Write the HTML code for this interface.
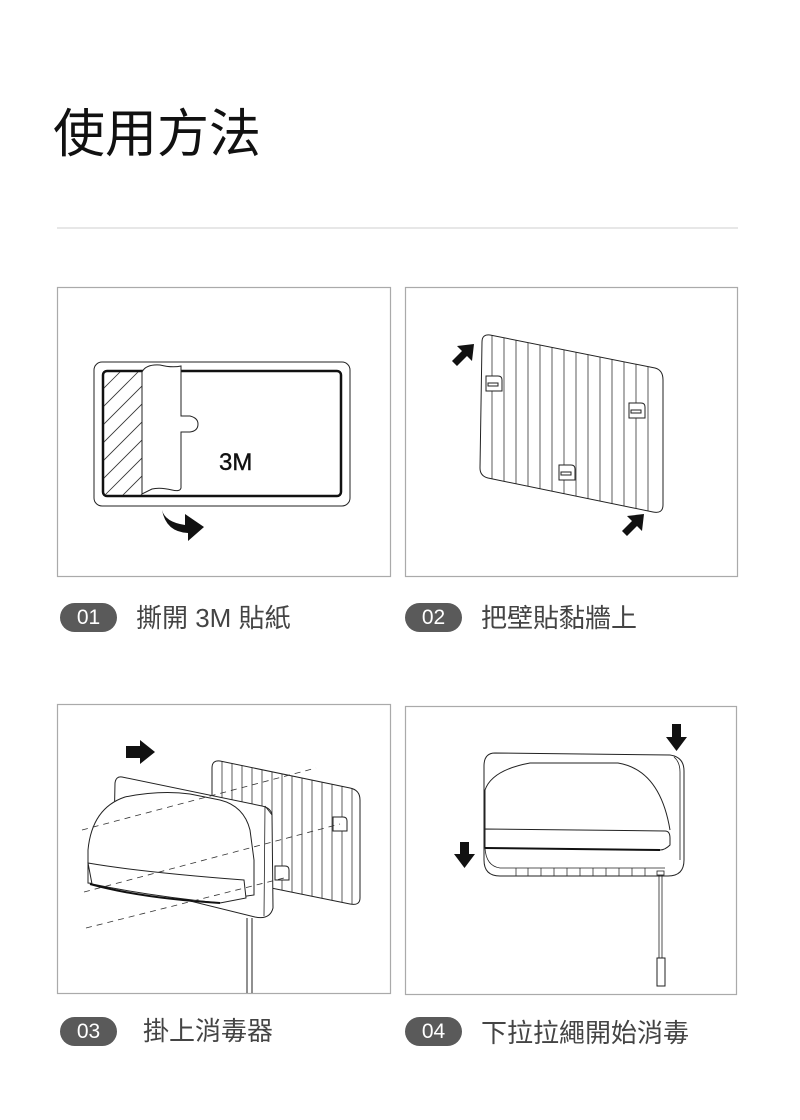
<!DOCTYPE html>
<html><head><meta charset="utf-8"><style>
html,body{margin:0;padding:0;background:#fff;}
body{width:800px;height:1120px;position:relative;overflow:hidden;font-family:"Liberation Sans","Noto Sans CJK TC",sans-serif;}
.t{position:absolute;left:53px;top:92px;font-size:52px;line-height:76px;color:#111;font-family:"Noto Sans CJK TC","Noto Sans CJK SC",sans-serif;letter-spacing:0px;}
.pill{position:absolute;width:57px;height:29px;border-radius:15px;background:#5a5a5a;color:#fff;font-size:21px;line-height:29px;text-align:center;font-family:"Liberation Sans",sans-serif;}
.lab{position:absolute;font-size:26px;line-height:30px;color:#444;font-family:"Liberation Sans","Noto Sans CJK TC",sans-serif;}
svg{position:absolute;left:0;top:0;}
</style></head><body>
<div class="t">使用方法</div>
<svg width="800" height="1120" viewBox="0 0 800 1120">
<defs>
<clipPath id="hc"><rect x="104" y="372" width="40" height="123"/></clipPath>
<clipPath id="pc"><path d="M482,342 Q482,334 490,335 L655,368 Q663,370 663,380 L663,505 Q663,514 653,512 L488,478 Q480,476 480,468 Z"/></clipPath>
<clipPath id="pc3"><path d="M212,768 Q212,760 220,761 L350,788 Q360,790 360,800 L360,898 Q360,906 350,904 L222,878 Q212,876 212,868 Z"/></clipPath>
</defs>
<line x1="57" y1="228" x2="738" y2="228" stroke="#cfcfcf" stroke-width="1"/>
<g fill="none" stroke="#aaa" stroke-width="1.2">
<rect x="57.5" y="287.5" width="333" height="289"/>
<rect x="405.5" y="287.5" width="332" height="289"/>
<rect x="57.5" y="704.5" width="333" height="289"/>
<rect x="405.5" y="706.5" width="331" height="288"/>
</g>
<!-- Panel 1 -->
<rect x="94" y="362" width="256" height="144" rx="8" fill="none" stroke="#222" stroke-width="1"/>
<rect x="103" y="371" width="238" height="125" rx="4" fill="none" stroke="#111" stroke-width="2.5"/>
<g clip-path="url(#hc)" stroke="#333" stroke-width="0.8">
<line x1="80" y1="430" x2="150" y2="360"/><line x1="80" y1="448" x2="160" y2="368"/><line x1="80" y1="466" x2="170" y2="376"/><line x1="80" y1="484" x2="170" y2="394"/><line x1="80" y1="502" x2="170" y2="412"/><line x1="80" y1="520" x2="170" y2="430"/><line x1="80" y1="538" x2="170" y2="448"/><line x1="80" y1="556" x2="170" y2="466"/><line x1="80" y1="574" x2="170" y2="484"/><line x1="80" y1="412" x2="140" y2="352"/>
</g>
<path d="M142,372 Q146,364 160,365 Q172,368 181,366 L181,416 L190,416 Q198,418 198,424 Q198,431 190,432 L181,432 L181,488 Q180,492 172,490 Q160,487 152,489 Q146,492 142,494 Z" fill="#fff" stroke="#222" stroke-width="1"/>
<text x="219" y="470" font-size="24" font-family="Liberation Sans,sans-serif" fill="#111" stroke="#111" stroke-width="0.4">3M</text>
<path d="M162,510 Q165,522 185,525 L185,514 L204,527 L188,541 L188,533 Q166,532 162,510 Z" fill="#111"/>
<!-- Panel 2 -->
<g clip-path="url(#pc)" stroke="#333" stroke-width="0.8">
<line x1="492" y1="330" x2="492" y2="520"/><line x1="504" y1="330" x2="504" y2="520"/><line x1="516" y1="330" x2="516" y2="520"/><line x1="528" y1="330" x2="528" y2="520"/><line x1="540" y1="330" x2="540" y2="520"/><line x1="552" y1="330" x2="552" y2="520"/><line x1="564" y1="330" x2="564" y2="520"/><line x1="576" y1="330" x2="576" y2="520"/><line x1="588" y1="330" x2="588" y2="520"/><line x1="600" y1="330" x2="600" y2="520"/><line x1="612" y1="330" x2="612" y2="520"/><line x1="624" y1="330" x2="624" y2="520"/><line x1="636" y1="330" x2="636" y2="520"/><line x1="648" y1="330" x2="648" y2="520"/>
</g>
<path d="M482,342 Q482,334 490,335 L655,368 Q663,370 663,380 L663,505 Q663,514 653,512 L488,478 Q480,476 480,468 Z" fill="none" stroke="#222" stroke-width="1"/>
<g fill="#fff" stroke="#222" stroke-width="1">
<path d="M486,376 h12 q4,0 4,4 v11 h-16 z"/><rect x="488" y="383" width="10" height="3"/>
<path d="M629,403 h12 q4,0 4,4 v11 h-16 z"/><rect x="631" y="410" width="10" height="3"/>
<path d="M559,465 h12 q4,0 4,4 v11 h-16 z"/><rect x="561" y="472" width="10" height="3"/>
</g>
<path d="M452,361 L462,351 L457,346 L474,344 L472,361 L467,356 L457,366 Z" fill="#111"/>
<path d="M622,531 L632,521 L627,516 L644,514 L642,531 L637,526 L627,536 Z" fill="#111"/>
<!-- Panel 3 -->
<g clip-path="url(#pc3)" stroke="#333" stroke-width="0.8">
<line x1="222" y1="750" x2="222" y2="910"/><line x1="232" y1="750" x2="232" y2="910"/><line x1="242" y1="750" x2="242" y2="910"/><line x1="252" y1="750" x2="252" y2="910"/><line x1="262" y1="750" x2="262" y2="910"/><line x1="272" y1="750" x2="272" y2="910"/><line x1="282" y1="750" x2="282" y2="910"/><line x1="292" y1="750" x2="292" y2="910"/><line x1="302" y1="750" x2="302" y2="910"/><line x1="312" y1="750" x2="312" y2="910"/><line x1="322" y1="750" x2="322" y2="910"/><line x1="332" y1="750" x2="332" y2="910"/><line x1="342" y1="750" x2="342" y2="910"/><line x1="352" y1="750" x2="352" y2="910"/>
</g>
<path d="M212,768 Q212,760 220,761 L350,788 Q360,790 360,800 L360,898 Q360,906 350,904 L222,878 Q212,876 212,868 Z" fill="none" stroke="#222" stroke-width="1"/>
<g fill="#fff" stroke="#222" stroke-width="1">
<path d="M333,817 h10 q4,0 4,4 v10 h-14 z"/>
<path d="M275,866 h10 q4,0 4,4 v10 h-14 z"/>
</g>
<path d="M122,777 Q116,776 115,783 L113,882 L255,917 Q270,920 273,908 L272,815 Q271,808 262,806 Z" fill="#fff" stroke="#222" stroke-width="1"/>
<path d="M265,806 L272,815 M265,806 L264,916" fill="none" stroke="#222" stroke-width="0.8"/>
<path d="M88,883 L88,850 Q92,808 125,797 Q160,790 190,794 L220,800 Q244,806 250,830 L254,860 L254,895 L240,897 L88,883 Z" fill="#fff" stroke="#222" stroke-width="1"/>
<path d="M88,863 Q140,872 244,880 L246,898 L220,903 Q150,896 92,884 Z" fill="#fff" stroke="#222" stroke-width="1"/>
<path d="M90,884 Q140,898 220,903" fill="none" stroke="#111" stroke-width="2"/>
<g stroke="#333" stroke-width="0.8" stroke-dasharray="6,5" fill="none">
<line x1="82" y1="830" x2="316" y2="768"/>
<line x1="84" y1="892" x2="340" y2="824"/>
<line x1="86" y1="928" x2="288" y2="877"/>
</g>
<line x1="247" y1="918" x2="247" y2="993" stroke="#222" stroke-width="1"/>
<line x1="252" y1="918" x2="252" y2="993" stroke="#222" stroke-width="1"/>
<path d="M126,746 L140,746 L140,740 L155,752 L140,764 L140,758 L126,758 Z" fill="#111"/>
<!-- Panel 4 -->
<path d="M495,753 L670,755 Q684,757 684,771 L684,860 Q684,876 668,876 L500,876 Q484,876 484,860 L484,766 Q484,753 495,753 Z" fill="#fff" stroke="#222" stroke-width="1"/>
<path d="M674,757 Q680,762 680,772 L680,860" fill="none" stroke="#222" stroke-width="0.8"/>
<path d="M485,833 L485,790 Q492,770 530,763 L618,763 Q660,770 670,830" fill="none" stroke="#222" stroke-width="1"/>
<path d="M485,829 L665,831 Q670,831 670,838 L670,845 Q665,850 660,850 L485,848 Z" fill="#fff" stroke="#222" stroke-width="1"/>
<path d="M485,848 L660,850" stroke="#111" stroke-width="2"/>
<path d="M485,848 Q486,866 500,868 L665,868" fill="none" stroke="#222" stroke-width="0.8"/>
<g stroke="#333" stroke-width="0.8">
<line x1="516" y1="868" x2="516" y2="876"/><line x1="528" y1="868" x2="528" y2="876"/><line x1="541" y1="868" x2="541" y2="876"/><line x1="554" y1="868" x2="554" y2="876"/><line x1="567" y1="868" x2="567" y2="876"/><line x1="580" y1="868" x2="580" y2="876"/><line x1="593" y1="868" x2="593" y2="876"/><line x1="606" y1="868" x2="606" y2="876"/><line x1="619" y1="868" x2="619" y2="876"/><line x1="632" y1="868" x2="632" y2="876"/><line x1="645" y1="868" x2="645" y2="876"/>
</g>
<rect x="657" y="871" width="7" height="4" fill="#fff" stroke="#222" stroke-width="0.8"/>
<line x1="659" y1="875" x2="659" y2="958" stroke="#222" stroke-width="0.8"/>
<line x1="662" y1="875" x2="662" y2="958" stroke="#222" stroke-width="0.8"/>
<rect x="657" y="958" width="8" height="28" fill="#fff" stroke="#222" stroke-width="1"/>
<path d="M672,724 L681,724 L681,737 L687,737 L676.5,751 L666,737 L672,737 Z" fill="#111"/>
<path d="M460,842 L469,842 L469,854 L475,854 L464.5,868 L454,854 L460,854 Z" fill="#111"/>
</svg>
<div class="pill" style="left:60px;top:603px;">01</div>
<div class="lab" style="left:136px;top:603px;">撕開 3M 貼紙</div>
<div class="pill" style="left:405px;top:603px;">02</div>
<div class="lab" style="left:481px;top:603px;">把壁貼黏牆上</div>
<div class="pill" style="left:60px;top:1017px;">03</div>
<div class="lab" style="left:143px;top:1016px;">掛上消毒器</div>
<div class="pill" style="left:405px;top:1017px;">04</div>
<div class="lab" style="left:481px;top:1018px;">下拉拉繩開始消毒</div>
</body></html>
